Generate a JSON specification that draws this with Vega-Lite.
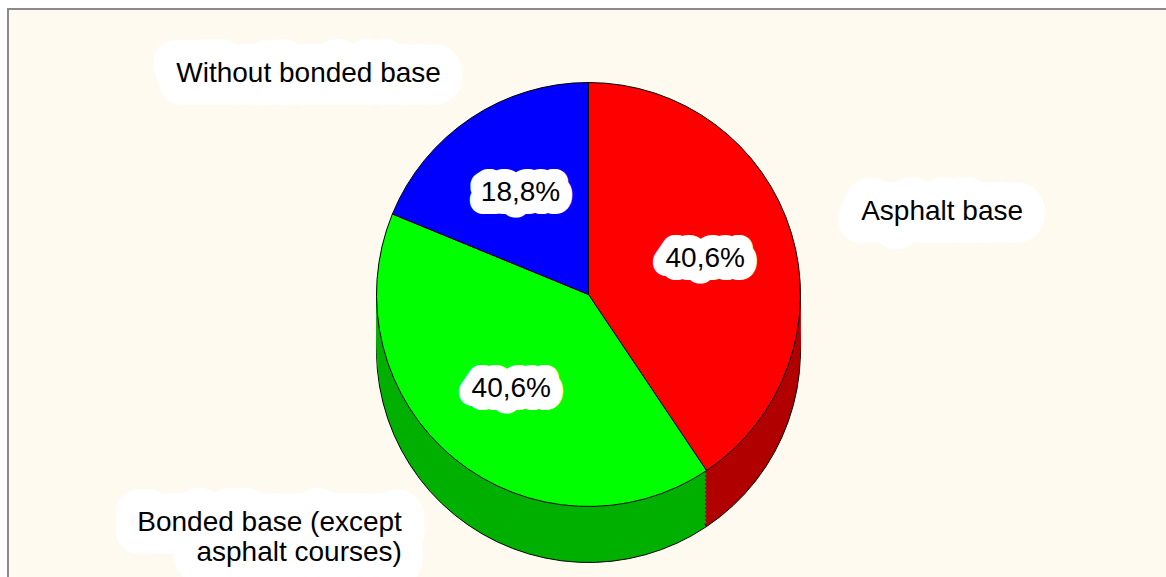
{
  "$schema": "https://vega.github.io/schema/vega-lite/v6.json",
  "autosize": {"type": "fit", "contains": "padding"},
  "width": 1166,
  "height": 577,
  "padding": {"left": 8, "top": 9, "right": -3, "bottom": -3},
  "background": "white",
  "view": {"fill": "#fffaf0", "stroke": "#8a8a8a", "strokeWidth": 2},
  "config": {
    "locale": {"number": {"decimal": ",", "thousands": ".", "grouping": [3], "currency": ["", " €"]}},
    "text": {"font": "Liberation Sans", "fontSize": 28}
  },
  "data": {
    "values": [
      {"category": "Asphalt base", "share": 0.406, "label": "Asphalt base"},
      {"category": "Bonded base (except asphalt courses)", "share": 0.406, "label": ["Bonded base (except", "asphalt courses)"]},
      {"category": "Without bonded base", "share": 0.188, "label": "Without bonded base"}
    ]
  },
  "encoding": {
    "theta": {"field": "share", "type": "quantitative", "stack": true},
    "detail": {"field": "category", "type": "nominal"},
    "order": {"field": "category", "type": "nominal", "sort": "ascending"}
  },
  "layer": [
    {"mark": {"type": "arc", "outerRadius": 212, "yOffset": 56, "stroke": "black", "strokeWidth": 1},
     "encoding": {"fill": {"field": "category", "type": "nominal", "legend": null, "scale": {"domain": ["Asphalt base", "Bonded base (except asphalt courses)", "Without bonded base"], "range": ["#b00000", "#00b000", "#0000b0"]}}}},
    {"mark": {"type": "arc", "outerRadius": 212, "yOffset": 52}, "encoding": {"fill": {"field": "category", "type": "nominal", "legend": null}}},
    {"mark": {"type": "arc", "outerRadius": 212, "yOffset": 48}, "encoding": {"fill": {"field": "category", "type": "nominal", "legend": null}}},
    {"mark": {"type": "arc", "outerRadius": 212, "yOffset": 44}, "encoding": {"fill": {"field": "category", "type": "nominal", "legend": null}}},
    {"mark": {"type": "arc", "outerRadius": 212, "yOffset": 40}, "encoding": {"fill": {"field": "category", "type": "nominal", "legend": null}}},
    {"mark": {"type": "arc", "outerRadius": 212, "yOffset": 36}, "encoding": {"fill": {"field": "category", "type": "nominal", "legend": null}}},
    {"mark": {"type": "arc", "outerRadius": 212, "yOffset": 32}, "encoding": {"fill": {"field": "category", "type": "nominal", "legend": null}}},
    {"mark": {"type": "arc", "outerRadius": 212, "yOffset": 28}, "encoding": {"fill": {"field": "category", "type": "nominal", "legend": null}}},
    {"mark": {"type": "arc", "outerRadius": 212, "yOffset": 24}, "encoding": {"fill": {"field": "category", "type": "nominal", "legend": null}}},
    {"mark": {"type": "arc", "outerRadius": 212, "yOffset": 20}, "encoding": {"fill": {"field": "category", "type": "nominal", "legend": null}}},
    {"mark": {"type": "arc", "outerRadius": 212, "yOffset": 16}, "encoding": {"fill": {"field": "category", "type": "nominal", "legend": null}}},
    {"mark": {"type": "arc", "outerRadius": 212, "yOffset": 12}, "encoding": {"fill": {"field": "category", "type": "nominal", "legend": null}}},
    {"mark": {"type": "arc", "outerRadius": 212, "yOffset": 8}, "encoding": {"fill": {"field": "category", "type": "nominal", "legend": null}}},
    {"mark": {"type": "arc", "outerRadius": 212, "yOffset": 4}, "encoding": {"fill": {"field": "category", "type": "nominal", "legend": null}}},
    {"mark": {"type": "arc", "outerRadius": 212, "stroke": "black", "strokeWidth": 1},
     "encoding": {"color": {"field": "category", "type": "nominal", "legend": null, "scale": {"domain": ["Asphalt base", "Bonded base (except asphalt courses)", "Without bonded base"], "range": ["#ff0000", "#00ff00", "#0000ff"]}}}},
    {"mark": {"type": "text", "radius": 122, "stroke": "white", "strokeWidth": 26, "strokeJoin": "round", "fill": "white"},
     "encoding": {"text": {"field": "share", "type": "quantitative", "format": ".1%"}}},
    {"mark": {"type": "text", "radius": 122, "stroke": "white", "strokeWidth": 12, "strokeJoin": "round", "fill": "white"},
     "encoding": {"text": {"field": "share", "type": "quantitative", "format": ".1%"}}},
    {"mark": {"type": "text", "radius": 122, "fill": "black"},
     "encoding": {"text": {"field": "share", "type": "quantitative", "format": ".1%"}}},
    {"mark": {"type": "text", "stroke": "white", "strokeWidth": 46, "strokeJoin": "round", "fill": "white",
              "radius": {"expr": "datum.category == 'Asphalt base' ? 285 : datum.category == 'Without bonded base' ? 265 : 295"},
              "align": {"expr": "datum.category == 'Asphalt base' ? 'left' : 'right'"}},
     "encoding": {"text": {"field": "label", "type": "nominal"}}},
    {"mark": {"type": "text", "fill": "black",
              "radius": {"expr": "datum.category == 'Asphalt base' ? 285 : datum.category == 'Without bonded base' ? 265 : 295"},
              "align": {"expr": "datum.category == 'Asphalt base' ? 'left' : 'right'"}},
     "encoding": {"text": {"field": "label", "type": "nominal"}}}
  ]
}
